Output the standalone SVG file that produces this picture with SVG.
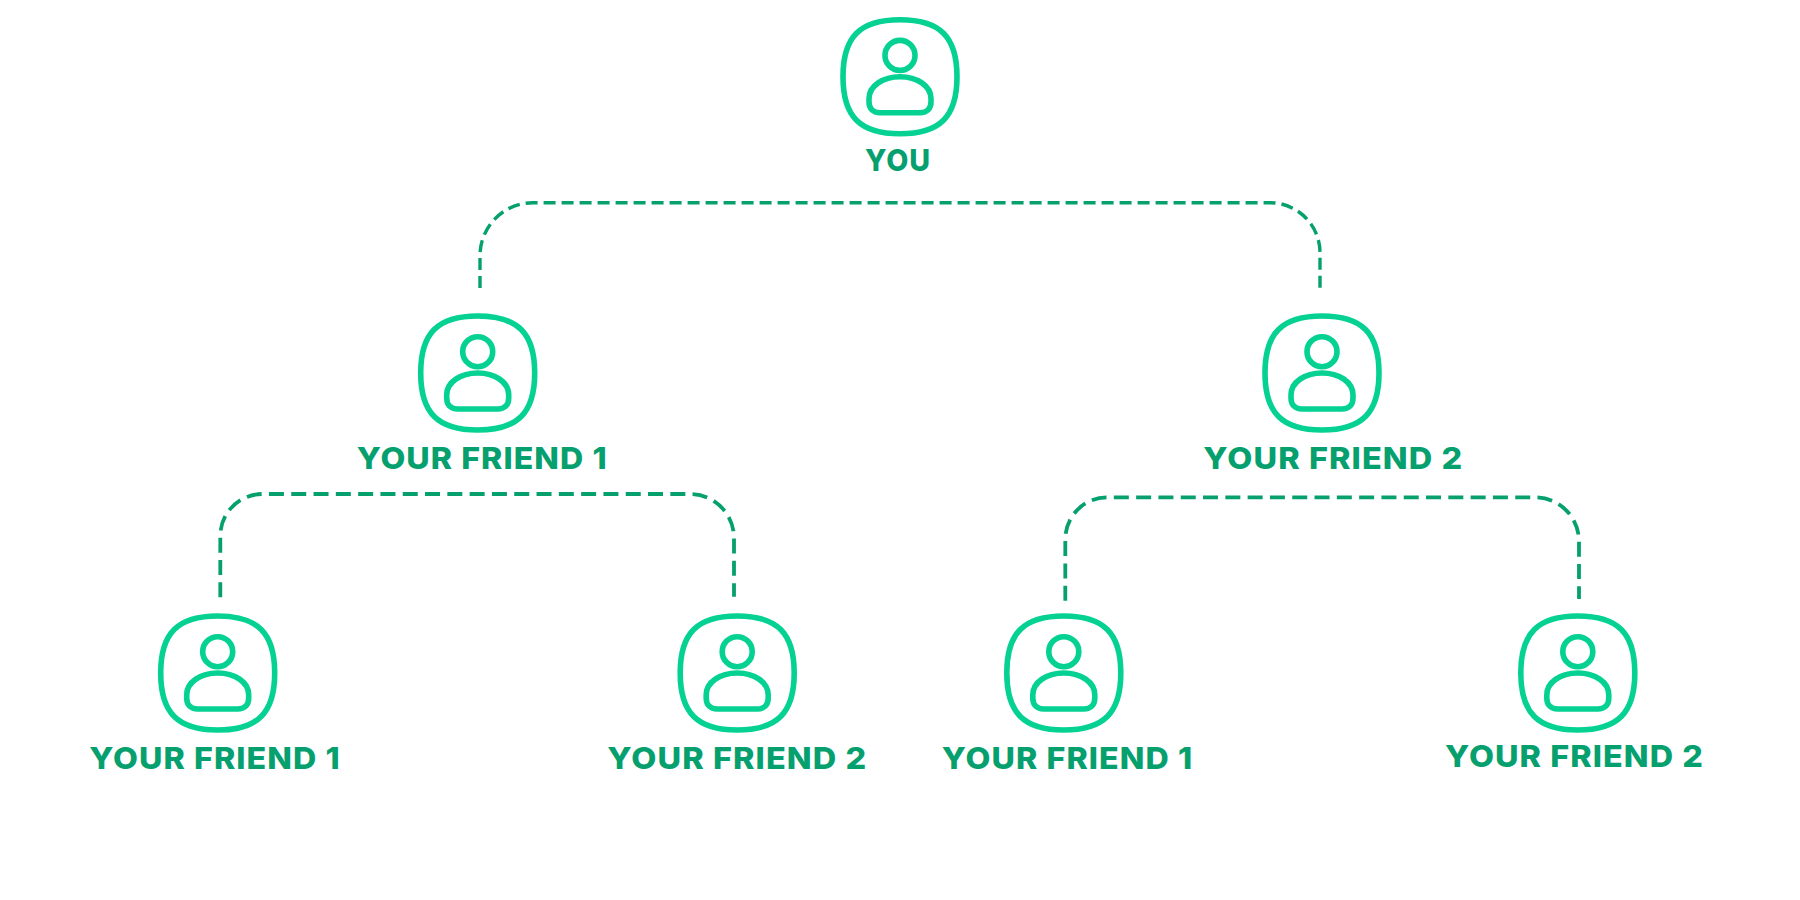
<svg xmlns="http://www.w3.org/2000/svg" width="1800" height="900" viewBox="0 0 1800 900">
  <style>
    .icon { fill: none; stroke: #05d192; stroke-width: 5.6; }
    .link { fill: none; stroke: #06a06f; }
    .upper { stroke-width: 3.4; stroke-dasharray: 12 6; }
    .lower { stroke-width: 3.8; stroke-dasharray: 15 7.300; }
    .label { font-family: "Inter", "Liberation Sans", sans-serif; font-weight: 800; font-size: 30px; letter-spacing: 1px; fill: #06a06f; }
  </style>
  <defs>
    <symbol id="person" overflow="visible">
      <path class="icon" d="M0 -57 C40 -57 57 -40 57 0 C57 40 40 57 0 57 C-40 57 -57 40 -57 0 C-57 -40 -40 -57 0 -57 Z"/>
      <circle class="icon" cx="0" cy="-21.300" r="15"/>
      <path class="icon" d="M-31 22 C-31 9 -17 0 0 0 C17 0 31 9 31 22 L31 25 C31 32 27 36 20 36 L-20 36 C-27 36 -31 32 -31 25 Z"/>
    </symbol>
  </defs>
  <rect width="1800" height="900" fill="#ffffff"/>
  <g id="connectors">
    <path class="link upper" d="M480 288 V256 A53 53 0 0 1 533 202.700 H1270 A50 50 0 0 1 1320 252.700 V292.700"/>
    <path class="link lower" d="M220.300 597.300 V536 A42 42 0 0 1 262.300 494 H690 A44 44 0 0 1 734 538 V596.700"/>
    <path class="link lower" d="M1065.300 600.700 V539 A42 42 0 0 1 1107.300 497.300 H1535 A44 44 0 0 1 1579 541.300 V599"/>
  </g>
  <g id="node-you"><use href="#person" x="900" y="76.700"/><text class="label" x="865" y="170.700" textLength="66" lengthAdjust="spacingAndGlyphs">YOU</text></g>
  <g id="node-friend-1"><use href="#person" x="477.700" y="373"/><text class="label" x="356.700" y="468.700" textLength="251" lengthAdjust="spacingAndGlyphs">YOUR FRIEND 1</text></g>
  <g id="node-friend-2"><use href="#person" x="1322" y="373"/><text class="label" x="1203.300" y="468.700" textLength="260" lengthAdjust="spacingAndGlyphs">YOUR FRIEND 2</text></g>
  <g id="node-friend-1-1"><use href="#person" x="217.700" y="673"/><text class="label" x="89.300" y="768.700" textLength="251.500" lengthAdjust="spacingAndGlyphs">YOUR FRIEND 1</text></g>
  <g id="node-friend-1-2"><use href="#person" x="737.200" y="673"/><text class="label" x="607.300" y="768.700" textLength="260" lengthAdjust="spacingAndGlyphs">YOUR FRIEND 2</text></g>
  <g id="node-friend-2-1"><use href="#person" x="1063.800" y="673"/><text class="label" x="941.700" y="768.700" textLength="251.600" lengthAdjust="spacingAndGlyphs">YOUR FRIEND 1</text></g>
  <g id="node-friend-2-2"><use href="#person" x="1577.800" y="673"/><text class="label" x="1445" y="766.700" textLength="259" lengthAdjust="spacingAndGlyphs">YOUR FRIEND 2</text></g>
</svg>
